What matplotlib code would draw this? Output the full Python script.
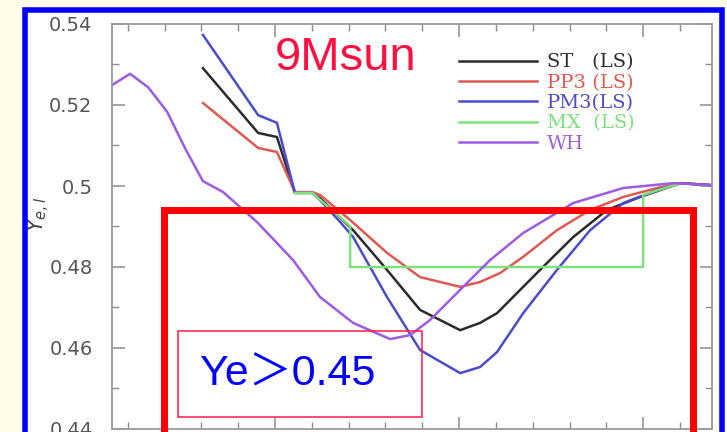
import matplotlib
matplotlib.use('Agg')
import matplotlib.pyplot as plt
from matplotlib.patches import Rectangle
from matplotlib.ticker import MultipleLocator

# Ye profiles (x in arbitrary mass units)
st_x = [0.304, 0.454, 0.505, 0.554, 0.601, 0.622, 0.712, 0.804, 0.894, 1.003, 1.057, 1.103,
        1.220, 1.310, 1.402, 1.492, 1.601, 1.6875]
st_y = [0.5291, 0.5131, 0.5121, 0.4983, 0.4983, 0.4970, 0.4891, 0.4793, 0.4694, 0.4644, 0.4662, 0.4686,
        0.4793, 0.4874, 0.4941, 0.4973, 0.5007, 0.5002]

pp3_x = [0.304, 0.454, 0.505, 0.554, 0.601, 0.622, 0.704, 0.804, 0.894, 1.003, 1.057, 1.111,
         1.174, 1.266, 1.356, 1.446, 1.538, 1.601, 1.6875]
pp3_y = [0.5205, 0.5094, 0.5084, 0.4985, 0.4985, 0.4978, 0.4916, 0.4835, 0.4775, 0.4751, 0.4763, 0.4785,
         0.4825, 0.4891, 0.4941, 0.4973, 0.4995, 0.5007, 0.5002]

pm3_x = [0.304, 0.454, 0.505, 0.554, 0.601, 0.622, 0.677, 0.712, 0.804, 0.894, 1.003, 1.057, 1.103,
         1.174, 1.266, 1.356, 1.446, 1.538, 1.601, 1.6875]
pm3_y = [0.5373, 0.5175, 0.5156, 0.4983, 0.4983, 0.4965, 0.4911, 0.4874, 0.4726, 0.4595, 0.4538, 0.4553, 0.4590,
         0.4686, 0.4793, 0.4891, 0.4958, 0.4990, 0.5007, 0.5002]

mx_x = [0.554, 0.601, 0.704, 0.704, 1.500, 1.500, 1.601]
mx_y = [0.4983, 0.4983, 0.4901, 0.4800, 0.4800, 0.4978, 0.5007]

wh_x = [0.057, 0.106, 0.155, 0.207, 0.255, 0.304, 0.359, 0.451, 0.549, 0.622, 0.712, 0.8125, 0.867,
        0.921, 1.011, 1.084, 1.174, 1.310, 1.446, 1.582, 1.6875]
wh_y = [0.5249, 0.5277, 0.5244, 0.5183, 0.5094, 0.5012, 0.4985, 0.4911, 0.4817, 0.4726, 0.4662, 0.4622, 0.4632,
        0.4669, 0.4751, 0.4817, 0.4884, 0.4958, 0.4995, 0.5007, 0.5002]

labels = ['ST   (LS)', 'PP3 (LS)', 'PM3(LS)', 'MX  (LS)', 'WH']
colors = ['#2b2b2b', '#dc5a52', '#4c4cc8', '#7ee07e', '#9d5ce0']

W, H = 727, 432


def fr(x, y):
    # pixel position (from top-left) -> figure fraction
    return x / W, (H - y) / H


fig = plt.figure(figsize=(W / 100, H / 100), dpi=100, facecolor='#fffde8')

# white slide panel inside the blue frame
fig.patches.append(Rectangle(fr(24.5, 470), (721.5 - 24.5) / W, (470 - 10) / H,
                             transform=fig.transFigure, facecolor='white', edgecolor='none', zorder=-1))

ax = fig.add_axes([112 / W, 3 / H, 600 / W, 405 / H])
series = [(st_x, st_y), (pp3_x, pp3_y), (pm3_x, pm3_y), (mx_x, mx_y), (wh_x, wh_y)]
for (xs, ys), lab, c in zip(series, labels, colors):
    ax.plot(xs, ys, color=c, lw=1.8, label=lab, solid_joinstyle='round')

ax.set_xlim(0.057, 1.687)
ax.set_ylim(0.44, 0.54)
ax.xaxis.set_major_locator(MultipleLocator(0.5))
ax.xaxis.set_minor_locator(MultipleLocator(0.1))
ax.yaxis.set_major_locator(MultipleLocator(0.02))
ax.yaxis.set_minor_locator(MultipleLocator(0.01))
ax.set_yticks([0.44, 0.46, 0.48, 0.5, 0.52, 0.54])
ax.set_yticklabels(['0.44', '0.46', '0.48', '0.5', '0.52', '0.54'])
ax.tick_params(which='both', direction='in', top=True, right=True, color='#8c8c8c',
               labelbottom=False, labelsize=14, labelcolor='#555555', pad=14)
ax.tick_params(which='major', length=9, width=1.1)
ax.tick_params(which='minor', length=5, width=1.0)
for s in ax.spines.values():
    s.set_color('#9a9a9a')
    s.set_linewidth(1.3)

ax.set_ylabel(r'$Y_{e,l}$', fontsize=15, color='#444444')
ax.yaxis.set_label_coords(-0.1, 0.53)

ax.legend(loc='upper left', bbox_to_anchor=(0.578, 0.927), frameon=False,
          borderpad=0, borderaxespad=0, handlelength=4.0, handletextpad=0.55,
          labelspacing=0.12, labelcolor='linecolor',
          prop={'family': 'DejaVu Serif', 'size': 14})

# slide annotations on top of the plot
fig.patches.append(Rectangle(fr(24.5, 470), (721.5 - 24.5) / W, (470 - 10) / H,
                             transform=fig.transFigure, facecolor='none', edgecolor='#0000ff',
                             lw=4.0, zorder=5))
fig.patches.append(Rectangle(fr(163.5, 480), (693 - 163.5) / W, (480 - 210) / H,
                             transform=fig.transFigure, facecolor='none', edgecolor='#ff0000',
                             lw=5.0, zorder=5))
fig.patches.append(Rectangle(fr(178, 417), (422 - 178) / W, (417 - 331) / H,
                             transform=fig.transFigure, facecolor='none', edgecolor='#ff1a4a',
                             lw=1.1, zorder=5))

fig.text(*fr(275, 70), '9Msun', fontsize=34, color='#ff1040', family='Liberation Sans',
         va='baseline', ha='left', zorder=6)
fig.text(*fr(200, 385), 'Ye＞0.45', fontsize=31, color='#0000ff',
         family=['Liberation Sans', 'Noto Sans CJK JP'], va='baseline', ha='left', zorder=6)

fig.savefig('out.png', dpi=100, facecolor=fig.get_facecolor())
